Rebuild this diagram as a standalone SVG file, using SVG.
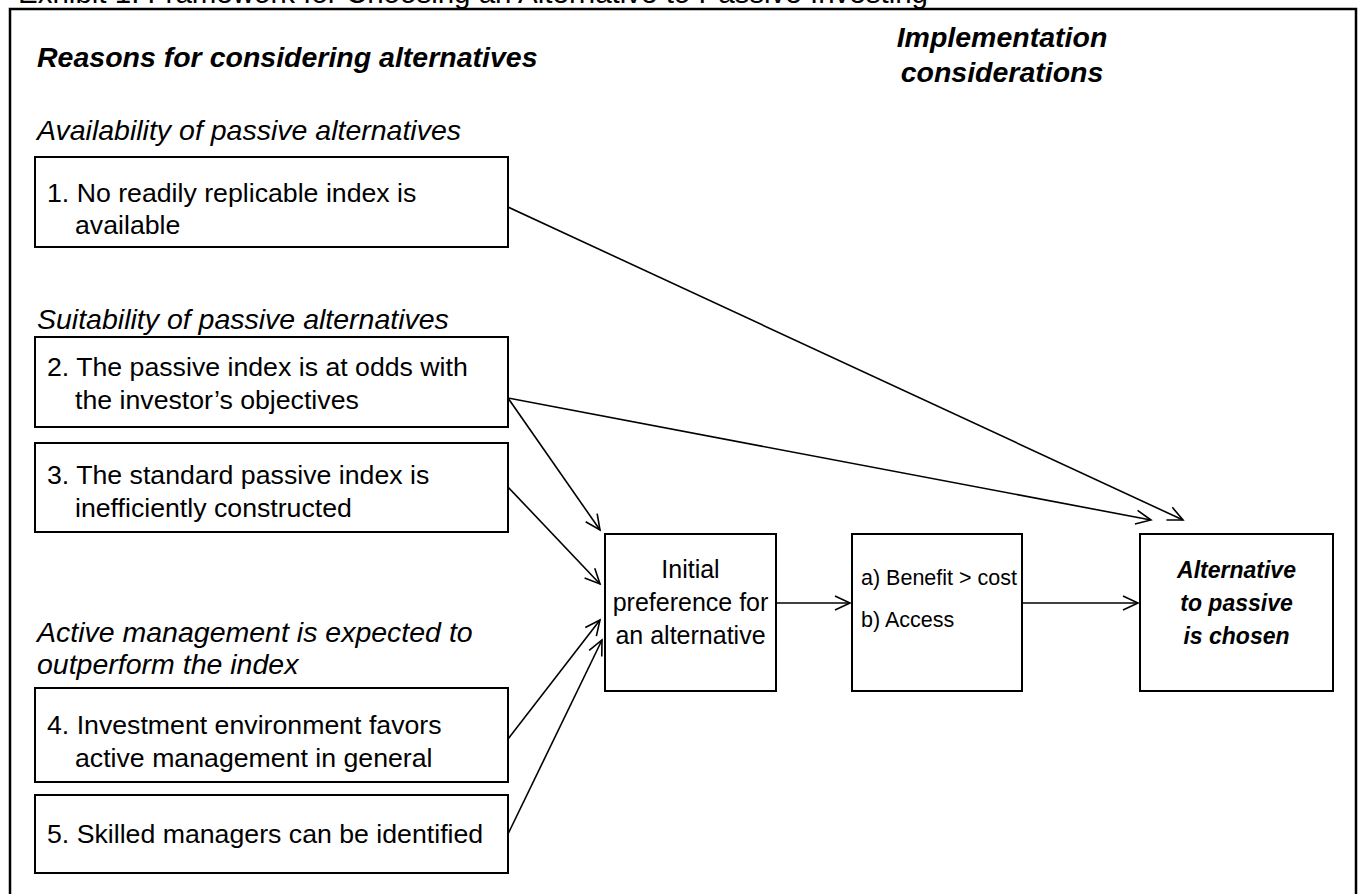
<svg xmlns="http://www.w3.org/2000/svg" width="1361" height="894" viewBox="0 0 1361 894">
<style>
text{font-family:"Liberation Sans",Arial,sans-serif;fill:#000}
.t{font-size:26.7px}
.h{font-size:28.5px;font-weight:bold;font-style:italic}
.s{font-size:28.5px;font-style:italic}
.m{font-size:25px}
.k{font-size:21.5px}
.q{font-size:23px;font-weight:bold;font-style:italic}
.b{fill:#fff;stroke:#000;stroke-width:2}
.c{stroke:#000;stroke-width:1.6;fill:none}
</style>
<defs>
<marker id="a" markerUnits="userSpaceOnUse" markerWidth="20" markerHeight="20" refX="16" refY="8" orient="auto" viewBox="0 0 20 16">
<path d="M1,1 L16,8 L1,15" fill="none" stroke="#000" stroke-width="1.6"/>
</marker>
</defs>
<rect width="1361" height="894" fill="#fff"/>
<text x="18" y="2.5" font-size="29.5">Exhibit 1: Framework for Choosing an Alternative to Passive Investing</text>
<path d="M10,894 V9 H1356 V894" fill="none" stroke="#000" stroke-width="2.5"/>
<text class="h" x="37" y="67">Reasons for considering alternatives</text>
<text class="h" x="1002" y="47" text-anchor="middle">Implementation</text>
<text class="h" x="1002" y="82" text-anchor="middle">considerations</text>
<text class="s" x="37" y="140">Availability of passive alternatives</text>
<text class="s" x="37" y="329">Suitability of passive alternatives</text>
<text class="s" x="37" y="642">Active management is expected to</text>
<text class="s" x="37" y="674">outperform the index</text>
<g id="connectors">
<line class="c" x1="508" y1="207" x2="1183" y2="520" marker-end="url(#a)"/>
<line class="c" x1="508" y1="398" x2="1151" y2="520" marker-end="url(#a)"/>
<line class="c" x1="508" y1="398" x2="600" y2="530" marker-end="url(#a)"/>
<line class="c" x1="508" y1="487" x2="600" y2="584" marker-end="url(#a)"/>
<line class="c" x1="508" y1="739" x2="600" y2="620" marker-end="url(#a)"/>
<line class="c" x1="508" y1="834" x2="602" y2="640" marker-end="url(#a)"/>
<line class="c" x1="776" y1="603" x2="850" y2="603" marker-end="url(#a)"/>
<line class="c" x1="1022" y1="603" x2="1138" y2="603" marker-end="url(#a)"/>
</g>
<g id="n1"><rect class="b" x="35" y="157" width="473" height="90"/>
<text class="t" x="47" y="202">1. No readily replicable index is</text>
<text class="t" x="75" y="234">available</text></g>
<g id="n2"><rect class="b" x="35" y="337" width="473" height="90"/>
<text class="t" x="47" y="376">2. The passive index is at odds with</text>
<text class="t" x="75" y="409">the investor’s objectives</text></g>
<g id="n3"><rect class="b" x="35" y="443" width="473" height="89"/>
<text class="t" x="47" y="484">3. The standard passive index is</text>
<text class="t" x="75" y="517">inefficiently constructed</text></g>
<g id="n4"><rect class="b" x="35" y="688" width="473" height="94"/>
<text class="t" x="47" y="734">4. Investment environment favors</text>
<text class="t" x="75" y="767">active management in general</text></g>
<g id="n5"><rect class="b" x="35" y="795" width="473" height="78"/>
<text class="t" x="47" y="843">5. Skilled managers can be identified</text></g>
<g id="n6"><rect class="b" x="605" y="534" width="171" height="157"/>
<text class="m" x="690.5" y="578" text-anchor="middle">Initial</text>
<text class="m" x="690.5" y="611" text-anchor="middle">preference for</text>
<text class="m" x="690.5" y="644" text-anchor="middle">an alternative</text></g>
<g id="n7"><rect class="b" x="852" y="534" width="170" height="157"/>
<text class="k" x="861" y="585">a) Benefit &gt; cost</text>
<text class="k" x="861" y="627">b) Access</text></g>
<g id="n8"><rect class="b" x="1140" y="534" width="193" height="157"/>
<text class="q" x="1236.5" y="578" text-anchor="middle">Alternative</text>
<text class="q" x="1236.5" y="611" text-anchor="middle">to passive</text>
<text class="q" x="1236.5" y="644" text-anchor="middle">is chosen</text></g>
</svg>
